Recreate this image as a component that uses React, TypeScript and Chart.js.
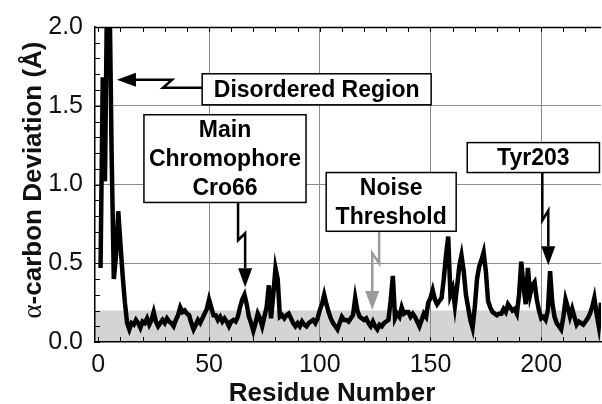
import React, { useEffect, useRef } from "react";
import { Chart, registerables } from "chart.js";

Chart.register(...registerables);

// Residue numbers start at 1; one deviation value per residue (Å)
const FIRST_RESIDUE = 1;
const DEVIATION: number[] = [
  0.47, 1.68, 1.02, 2.3, 2.3, 1.2, 0.40, 0.55, 0.83, 0.62,
  0.42, 0.25, 0.12, 0.08, 0.12, 0.11, 0.14, 0.12, 0.09, 0.13,
  0.12, 0.15, 0.11, 0.14, 0.19, 0.13, 0.10, 0.12, 0.14, 0.12,
  0.15, 0.13, 0.12, 0.10, 0.14, 0.17, 0.22, 0.19, 0.20, 0.18,
  0.17, 0.12, 0.08, 0.11, 0.14, 0.12, 0.15, 0.18, 0.21, 0.27,
  0.22, 0.17, 0.17, 0.14, 0.16, 0.13, 0.15, 0.13, 0.10, 0.13,
  0.14, 0.13, 0.16, 0.22, 0.27, 0.30, 0.24, 0.16, 0.12, 0.07,
  0.12, 0.18, 0.15, 0.10, 0.16, 0.22, 0.36, 0.15, 0.30, 0.47,
  0.40, 0.16, 0.17, 0.15, 0.17, 0.18, 0.15, 0.12, 0.10, 0.12,
  0.10, 0.13, 0.11, 0.10, 0.12, 0.13, 0.14, 0.12, 0.15, 0.20,
  0.24, 0.30, 0.24, 0.19, 0.15, 0.12, 0.10, 0.08, 0.12, 0.16,
  0.14, 0.14, 0.13, 0.15, 0.17, 0.28, 0.20, 0.16, 0.15, 0.14,
  0.15, 0.12, 0.10, 0.13, 0.10, 0.08, 0.11, 0.10, 0.12, 0.13,
  0.14, 0.26, 0.42, 0.15, 0.18, 0.16, 0.22, 0.18, 0.19, 0.19,
  0.16, 0.18, 0.16, 0.13, 0.10, 0.14, 0.18, 0.16, 0.25, 0.28,
  0.33, 0.27, 0.24, 0.26, 0.28, 0.40, 0.55, 0.67, 0.30, 0.34,
  0.23, 0.35, 0.48, 0.55, 0.45, 0.30, 0.22, 0.14, 0.09, 0.22,
  0.40, 0.48, 0.52, 0.57, 0.45, 0.26, 0.22, 0.19, 0.18, 0.17,
  0.18, 0.18, 0.21, 0.19, 0.24, 0.22, 0.20, 0.21, 0.18, 0.30,
  0.51, 0.35, 0.24, 0.47, 0.30, 0.36, 0.38, 0.27, 0.20, 0.15,
  0.16, 0.14, 0.20, 0.45, 0.25, 0.16, 0.12, 0.10, 0.08, 0.16,
  0.27, 0.22, 0.16, 0.21, 0.16, 0.11, 0.13, 0.12, 0.11, 0.13,
  0.15, 0.18, 0.22, 0.28, 0.18, 0.10, 0.25, 0.42,
];

const X_MIN = -1.5;
const X_MAX = 227;
const X_TICKS = [0, 50, 100, 150, 200];
const Y_MIN = 0;
const Y_MAX = 2;
const Y_STEP = 0.5;
const NOISE_THRESHOLD = 0.2;

const X_TITLE = "Residue Number";
const Y_TITLE_GREEK = "\u03b1";
const Y_TITLE_REST = "-carbon Deviation (\u00c5)";

type Pt = [number, number];
type Note = {
  lines: string[];
  box: [number, number, number, number]; // x0, x1, yTop, yBottom (data units)
  path: Pt[]; // from box to arrow tip (data units)
  color: string;
};

const NOTES: Note[] = [
  {
    lines: ["Disordered Region"],
    box: [46.9, 150.3, 1.703, 1.506],
    path: [[46.9, 1.614], [29.2, 1.614], [33.3, 1.665], [8.4, 1.665]],
    color: "#000",
  },
  {
    lines: ["Main", "Chromophore", "Cro66"],
    box: [20.6, 93.8, 1.443, 0.886],
    path: [[63.1, 0.886], [63.1, 0.646], [66.3, 0.69], [66.3, 0.348]],
    color: "#000",
  },
  {
    lines: ["Noise", "Threshold"],
    box: [102.9, 161.6, 1.076, 0.703],
    path: [[126.8, 0.703], [126.8, 0.5], [123.7, 0.563], [123.7, 0.2025]],
    color: "#9a9a9a",
  },
  {
    lines: ["Tyr203"],
    box: [166.6, 226.3, 1.266, 1.076],
    path: [[200.5, 1.076], [200.5, 0.772], [203.2, 0.835], [203.2, 0.487]],
    color: "#000",
  },
];

const SANS = "'Liberation Sans', Arial, Helvetica, sans-serif";
const SERIF = "'Liberation Serif', 'Times New Roman', serif";

const decorPlugin = {
  id: "decor",
  beforeDraw(chart: any) {
    const { ctx, chartArea: a, scales } = chart;
    const y = scales.y;
    const top = y.getPixelForValue(NOISE_THRESHOLD);
    ctx.save();
    ctx.fillStyle = "#d4d4d4";
    ctx.fillRect(a.left, top, a.right - a.left, y.getPixelForValue(0) - top);
    ctx.restore();
  },
  beforeDatasetsDraw(chart: any) {
    const { ctx, chartArea: a, scales } = chart;
    const x = scales.x;
    const y = scales.y;
    ctx.save();
    ctx.strokeStyle = "#000";
    ctx.lineWidth = 1;
    const len = 5;
    for (let v = 0; v <= 20; v++) {
      const py = Math.round(y.getPixelForValue(v / 10)) + 0.5;
      ctx.beginPath();
      ctx.moveTo(a.left, py);
      ctx.lineTo(a.left + len, py);
      ctx.stroke();
    }
    for (let v = 0; v <= 220; v += 10) {
      const px = Math.round(x.getPixelForValue(v)) + 0.5;
      ctx.beginPath();
      ctx.moveTo(px, a.bottom);
      ctx.lineTo(px, a.bottom - len);
      ctx.moveTo(px, a.top);
      ctx.lineTo(px, a.top + len);
      ctx.stroke();
    }
    ctx.lineWidth = 1.5;
    ctx.beginPath();
    ctx.moveTo(a.left, a.top + 0.5);
    ctx.lineTo(a.right, a.top + 0.5);
    ctx.stroke();
    ctx.restore();
  },
  afterDraw(chart: any) {
    const { ctx, scales } = chart;
    const x = scales.x;
    const y = scales.y;
    const P = (p: Pt): Pt => [x.getPixelForValue(p[0]), y.getPixelForValue(p[1])];
    ctx.save();
    for (const n of NOTES) {
      // arrow shaft
      const pts = n.path.map(P);
      const tip = pts[pts.length - 1];
      const prev = pts[pts.length - 2];
      const ang = Math.atan2(tip[1] - prev[1], tip[0] - prev[0]);
      const headLen = 19;
      const headW = 7;
      const base: Pt = [tip[0] - headLen * Math.cos(ang), tip[1] - headLen * Math.sin(ang)];
      ctx.strokeStyle = n.color;
      ctx.fillStyle = n.color;
      ctx.lineWidth = 2.5;
      ctx.lineJoin = "miter";
      ctx.beginPath();
      ctx.moveTo(pts[0][0], pts[0][1]);
      for (let i = 1; i < pts.length - 1; i++) ctx.lineTo(pts[i][0], pts[i][1]);
      ctx.lineTo(base[0], base[1]);
      ctx.stroke();
      ctx.beginPath();
      ctx.moveTo(tip[0], tip[1]);
      ctx.lineTo(base[0] + headW * Math.sin(ang), base[1] - headW * Math.cos(ang));
      ctx.lineTo(base[0] - headW * Math.sin(ang), base[1] + headW * Math.cos(ang));
      ctx.closePath();
      ctx.fill();
      // box
      const x0 = x.getPixelForValue(n.box[0]);
      const x1 = x.getPixelForValue(n.box[1]);
      const y0 = y.getPixelForValue(n.box[2]);
      const y1 = y.getPixelForValue(n.box[3]);
      ctx.fillStyle = "#fff";
      ctx.fillRect(x0, y0, x1 - x0, y1 - y0);
      ctx.strokeStyle = "#000";
      ctx.lineWidth = 1.5;
      ctx.strokeRect(x0, y0, x1 - x0, y1 - y0);
      ctx.fillStyle = "#000";
      ctx.font = `bold 23px ${SANS}`;
      ctx.textAlign = "center";
      ctx.textBaseline = "middle";
      const cx = (x0 + x1) / 2;
      const cy = (y0 + y1) / 2;
      const lh = 29;
      n.lines.forEach((t, i) => {
        ctx.fillText(t, cx, cy + (i - (n.lines.length - 1) / 2) * lh + 1);
      });
    }
    // axis titles
    ctx.fillStyle = "#111";
    ctx.textBaseline = "alphabetic";
    ctx.textAlign = "center";
    ctx.font = `bold 26px ${SANS}`;
    ctx.fillText(X_TITLE, 332, 401);

    ctx.translate(41, 180);
    ctx.rotate(-Math.PI / 2);
    ctx.font = `27px ${SERIF}`;
    const wg = ctx.measureText(Y_TITLE_GREEK).width;
    ctx.font = `bold 26px ${SANS}`;
    const wr = ctx.measureText(Y_TITLE_REST).width;
    const start = -(wg + wr) / 2;
    ctx.textAlign = "left";
    ctx.font = `27px ${SERIF}`;
    ctx.fillText(Y_TITLE_GREEK, start, 0);
    ctx.font = `bold 26px ${SANS}`;
    ctx.fillText(Y_TITLE_REST, start + wg, 0);
    ctx.restore();
  },
};

export default function App() {
  const ref = useRef<HTMLCanvasElement | null>(null);
  useEffect(() => {
    if (!ref.current) return;
    const chart = new Chart(ref.current, {
      type: "line",
      data: {
        datasets: [
          {
            data: DEVIATION.map((v, i) => ({ x: i + FIRST_RESIDUE, y: v })),
            borderColor: "#000",
            borderWidth: 4.5,
            pointRadius: 0,
            tension: 0,
            clip: 0,
            borderJoinStyle: "miter",
          } as any,
        ],
      },
      options: {
        animation: false,
        responsive: false,
        events: [],
        layout: { padding: { top: 26, right: 1, left: 0, bottom: 0 } },
        plugins: { legend: { display: false }, tooltip: { enabled: false } },
        scales: {
          x: {
            type: "linear",
            min: X_MIN,
            max: X_MAX,
            afterBuildTicks: (s: any) => {
              s.ticks = X_TICKS.map((v) => ({ value: v }));
            },
            afterFit: (s: any) => {
              s.height = 62;
            },
            ticks: {
              font: { family: SANS, size: 25 },
              color: "#111",
              padding: 8,
              maxRotation: 0,
              autoSkip: false,
            },
            grid: {
              drawTicks: false,
              color: (c: any) => (c.tick && c.tick.value === 0 ? "rgba(0,0,0,0)" : "#8c8c8c"),
              lineWidth: 1,
            },
            border: { color: "#000", width: 1.5 },
          },
          y: {
            type: "linear",
            min: Y_MIN,
            max: Y_MAX,
            afterFit: (s: any) => {
              s.width = 95;
            },
            ticks: {
              stepSize: Y_STEP,
              font: { family: SANS, size: 25 },
              color: "#111",
              padding: 12,
              callback: (v: any) => Number(v).toFixed(1),
            },
            grid: {
              drawTicks: false,
              color: (c: any) =>
                c.tick && (c.tick.value === Y_MIN || c.tick.value === Y_MAX) ? "rgba(0,0,0,0)" : "#8c8c8c",
              lineWidth: 1,
            },
            border: { color: "#000", width: 1.5 },
          },
        },
      },
      plugins: [decorPlugin],
    });
    return () => chart.destroy();
  }, []);
  return (
    <div style={{ position: "fixed", left: 0, top: 0, width: 602, height: 404, background: "#fff" }}>
      <canvas ref={ref} width={602} height={404} style={{ width: 602, height: 404, display: "block" }} />
    </div>
  );
}
